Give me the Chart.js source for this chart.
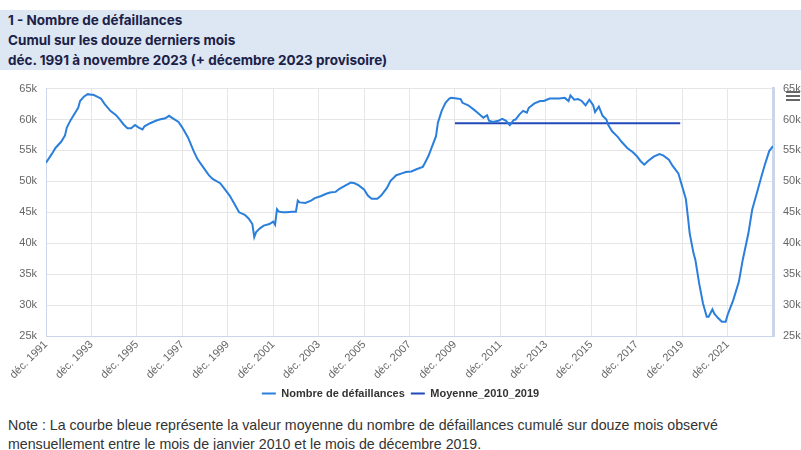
<!DOCTYPE html>
<html lang="fr">
<head>
<meta charset="utf-8">
<script src="https://cdn.jsdelivr.net/npm/chart.js@4"></script>
<style>
  html, body { margin: 0; padding: 0; background: #fff; }
  body { width: 801px; height: 450px; overflow: hidden; position: relative; font-family: "Liberation Sans", Arial, sans-serif; }
  #title {
    position: absolute; top: 10px; left: 0; width: 793px; height: 60px;
    padding-left: 8px; background: #dde6f3; color: #1b2147;
    font: bold 13.5px Inter, "Liberation Sans", sans-serif; line-height: 20px;
  }
  #wrap { position: absolute; top: 72px; left: 0; width: 801px; height: 337px; }
  #menu { position: absolute; top: 91px; left: 786px; width: 14px; }
  #menu div { height: 2px; background: #666; margin-bottom: 2px; }
  #note {
    position: absolute; top: 416px; left: 8px; width: 740px;
    font-size: 14.2px; line-height: 19px; color: #333;
  }
</style>
</head>
<body>
<div id="title">1 - Nombre de défaillances<br>Cumul sur les douze derniers mois<br>déc. 1991 à novembre 2023 (+ décembre 2023 provisoire)</div>
<div id="wrap"><canvas id="chart"></canvas></div>
<div id="menu"><div></div><div></div><div></div></div>
<div id="note">Note : La courbe bleue représente la valeur moyenne du nombre de défaillances cumulé sur douze mois observé mensuellement entre le mois de janvier 2010 et le mois de décembre 2019.</div>
<script>
// months counted from déc. 1991 (0) to déc. 2023 (384)
const months = [
  0, 3, 5, 8, 10, 11, 13, 15, 17, 18, 20, 22, 24, 25, 27, 29, 31, 34, 37, 39,
  41, 43, 45, 47, 49, 51, 52, 55, 58, 60, 63, 65, 67, 70, 72, 75, 78, 80, 83, 86,
  88, 92, 94, 97, 100, 102, 105, 107, 109, 110, 111, 113, 115, 118, 120, 121, 122, 123, 125, 127,
  130, 132, 133, 134, 137, 140, 142, 145, 148, 150, 153, 155, 158, 161, 163, 165, 168, 170, 172, 175,
  177, 180, 182, 185, 188, 190, 193, 196, 199, 200, 202, 204, 206, 207, 209, 211, 213, 214, 217, 219,
  220, 223, 226, 228, 231, 233, 234, 236, 239, 241, 243, 245, 247, 248, 250, 252, 254, 255, 258, 261,
  263, 266, 269, 271, 274, 276, 277, 279, 281, 283, 285, 287, 289, 290, 292, 294, 296, 297, 299, 302,
  304, 307, 310, 312, 314, 316, 318, 321, 324, 326, 329, 331, 334, 336, 338, 339, 340, 342, 343, 345,
  347, 349, 350, 352, 353, 355, 357, 359, 360, 363, 366, 368, 371, 373, 376, 378, 380, 382, 384
];
const defaillances = [
  53000, 54400, 55400, 56400, 57400, 58700, 59900, 60900, 61900, 63000, 63700, 64100, 64000, 64000, 63700, 63400, 62500, 61400, 60700, 60000,
  59200, 58600, 58600, 59100, 58700, 58400, 58900, 59400, 59800, 60000, 60200, 60600, 60200, 59600, 58700, 57100, 54900, 53600, 52300, 51000,
  50400, 49700, 48900, 47700, 46100, 45000, 44600, 44000, 43100, 41000, 41800, 42400, 42850, 43100, 43500, 43000, 45500, 45100, 45000, 45000,
  45100, 45100, 46900, 46600, 46500, 46900, 47300, 47600, 48000, 48200, 48300, 48800, 49300, 49800, 49700, 49400, 48700, 47700, 47200, 47200,
  47700, 48900, 50100, 51000, 51300, 51500, 51600, 52000, 52350, 52900, 54100, 55700, 57300, 59500, 61400, 62700, 63400, 63500, 63400, 63300,
  62700, 62300, 61600, 61100, 60300, 60700, 59800, 59600, 59800, 60100, 59800, 59100, 59900, 60000, 60800, 61400, 61100, 61900, 62600, 63000,
  63000, 63400, 63400, 63400, 63500, 63000, 63900, 63200, 63300, 63000, 62300, 63200, 62300, 61200, 62100, 60600, 60000, 59100, 58100, 57200,
  56400, 55400, 54700, 54100, 53300, 52700, 53300, 54000, 54400, 54200, 53500, 52500, 51300, 49200, 47100, 44400, 41600, 38400, 37300, 33500,
  30300, 28100, 28100, 29300, 28600, 27900, 27300, 27300, 28400, 30800, 33800, 37300, 41600, 45400, 48700, 50900, 53000, 54900, 55700
];
const moyenneMonths = [216, 335];
const moyenneValues = [59400, 59400];
const tickMonths = [0, 24, 48, 72, 96, 120, 144, 168, 192, 216, 240, 264, 288, 312, 336, 360];
const yTicks = [25000, 30000, 35000, 40000, 45000, 50000, 55000, 60000, 65000];

const tickFont = { family: "'Liberation Sans', Arial, sans-serif", size: 11 };
const kLabel = (v) => (v / 1000) + "k";
const monthLabel = (v) => "déc. " + (1991 + v / 12);

new Chart(document.getElementById("chart"), {
  type: "line",
  data: {
    datasets: [
      {
        label: "Nombre de défaillances",
        data: months.map((m, i) => ({ x: m, y: defaillances[i] })),
        borderColor: "#2a7fdc",
        backgroundColor: "#2a7fdc",
        borderWidth: 2,
        pointRadius: 0,
        tension: 0,
      },
      {
        label: "Moyenne_2010_2019",
        data: moyenneMonths.map((m, i) => ({ x: m, y: moyenneValues[i] })),
        borderColor: "#2148b8",
        backgroundColor: "#2148b8",
        borderWidth: 2,
        pointRadius: 0,
      },
    ],
  },
  options: {
    responsive: true,
    maintainAspectRatio: false,
    animation: false,
    layout: { padding: { top: 10, left: 0, right: 0, bottom: 0 } },
    plugins: {
      tooltip: { enabled: false },
      legend: {
        position: "bottom",
        labels: {
          usePointStyle: true,
          pointStyle: "line",
          pointStyleWidth: 14,
          color: "#333",
          font: { family: "'Liberation Sans', Arial, sans-serif", size: 11, weight: "bold" },
          padding: 6,
        },
      },
    },
    scales: {
      x: {
        type: "linear",
        min: 0,
        max: 384,
        afterBuildTicks: (axis) => { axis.ticks = tickMonths.map((v) => ({ value: v })); },
        afterFit: (axis) => { axis.height = 46; },
        ticks: { callback: monthLabel, minRotation: 45, maxRotation: 45, color: "#666", font: tickFont, padding: 2 },
        grid: { color: "#e6e6e6", drawTicks: false },
        border: { color: "#ccd6eb" },
      },
      y: {
        position: "left",
        min: 25000,
        max: 65000,
        afterBuildTicks: (axis) => { axis.ticks = yTicks.map((v) => ({ value: v })); },
        afterFit: (axis) => { axis.width = 46; },
        ticks: { callback: kLabel, color: "#666", font: tickFont, padding: 9 },
        grid: { color: "#e6e6e6", drawTicks: false },
        border: { color: "#ccd6eb" },
      },
      y2: {
        position: "right",
        min: 25000,
        max: 65000,
        afterBuildTicks: (axis) => { axis.ticks = yTicks.map((v) => ({ value: v })); },
        afterFit: (axis) => { axis.width = 28; },
        ticks: { callback: kLabel, color: "#666", font: tickFont, padding: 10 },
        grid: { display: false, drawTicks: false },
        border: { color: "#ccd6eb", width: 3 },
      },
    },
  },
});
</script>
</body>
</html>
